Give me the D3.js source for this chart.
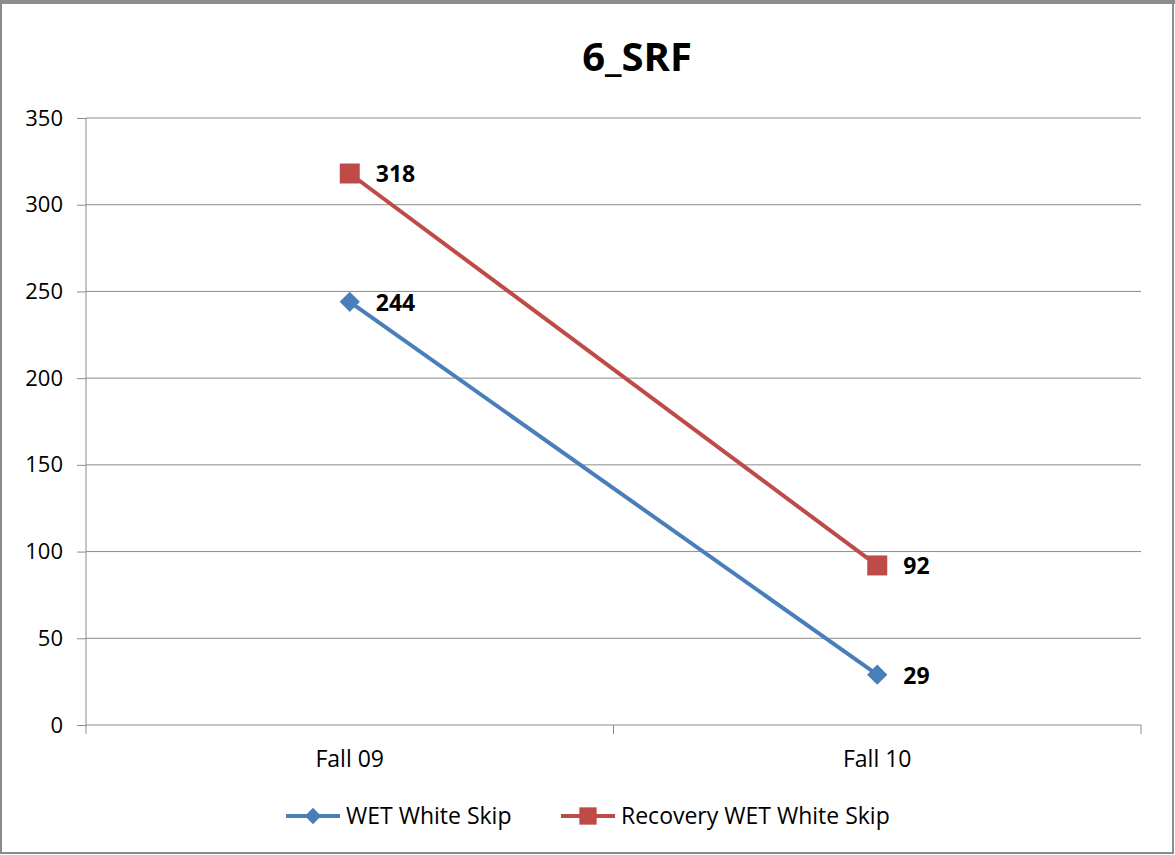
<!DOCTYPE html>
<html>
<head>
<meta charset="utf-8">
<script src="https://cdn.jsdelivr.net/npm/d3@7"></script>
<style>
  body { margin: 0; background: #fff; }
  text { font-family: "Open Sans", "Noto Sans", sans-serif; }
</style>
</head>
<body>
<svg id="chart" width="1175" height="855"></svg>
<script>
var categories = ["Fall 09", "Fall 10"];
var seriesNames = ["WET White Skip", "Recovery WET White Skip"];
var wetWhiteSkip = [244, 29];
var recoveryWetWhiteSkip = [318, 92];
var yTicks = [0, 50, 100, 150, 200, 250, 300, 350];

var colors = ["#4a7ebb", "#be4b48"];
var symbols = [d3.symbolDiamond2, d3.symbolSquare];

var svg = d3.select("#chart"),
    width = +svg.attr("width"),
    height = +svg.attr("height");

var margin = {top: 118, right: 34, bottom: 130, left: 86};

// outer frame
svg.append("rect")
    .attr("x", 1).attr("y", 1)
    .attr("width", width - 3).attr("height", height - 3)
    .attr("fill", "#fff")
    .attr("stroke", "#8c8c8c")
    .attr("stroke-width", 2);
svg.append("line")
    .attr("x1", 0).attr("x2", width)
    .attr("y1", 2).attr("y2", 2)
    .attr("stroke", "#8c8c8c").attr("stroke-width", 4);

var x = d3.scaleBand()
    .domain(categories)
    .range([margin.left, width - margin.right]);

var y = d3.scaleLinear()
    .domain([0, 350])
    .range([height - margin.bottom, margin.top]);

// title
svg.append("text")
    .attr("x", 637)
    .attr("y", 71)
    .attr("text-anchor", "middle")
    .attr("font-size", 40)
    .attr("font-weight", "bold")
    .attr("fill", "#000")
    .text("6_SRF");

// gridlines
svg.append("g")
    .selectAll("line")
    .data(yTicks.filter(function(d) { return d > 0; }))
    .enter().append("line")
      .attr("x1", margin.left)
      .attr("x2", width - margin.right)
      .attr("y1", function(d) { return y(d); })
      .attr("y2", function(d) { return y(d); })
      .attr("stroke", "#8c8c8c")
      .attr("stroke-width", 1);

// y axis
var yAxis = svg.append("g")
    .attr("transform", "translate(" + margin.left + ",0)")
    .call(d3.axisLeft(y).tickValues(yTicks).tickSize(9).tickPadding(14));
yAxis.selectAll("line, path").attr("stroke", "#8c8c8c");
yAxis.select(".domain").attr("d", "M0," + y(350) + "V" + y(0));
yAxis.selectAll("text")
    .attr("font-size", 22)
    .attr("fill", "#000")
    .attr("font-family", "'Open Sans', sans-serif");

// x axis
var xAxis = svg.append("g")
    .attr("transform", "translate(0," + y(0) + ")");
xAxis.append("line")
    .attr("x1", margin.left).attr("x2", width - margin.right)
    .attr("stroke", "#8c8c8c");
xAxis.selectAll(".tick")
    .data([margin.left, margin.left + x.bandwidth(), width - margin.right])
    .enter().append("line")
      .attr("x1", function(d) { return d; })
      .attr("x2", function(d) { return d; })
      .attr("y1", 0).attr("y2", 9)
      .attr("stroke", "#8c8c8c");
xAxis.selectAll("text")
    .data(categories)
    .enter().append("text")
      .attr("x", function(d) { return x(d) + x.bandwidth() / 2; })
      .attr("y", 42)
      .attr("text-anchor", "middle")
      .attr("font-size", 23)
      .attr("fill", "#000")
      .text(function(d) { return d; });

// series
var series = [wetWhiteSkip, recoveryWetWhiteSkip];
var line = d3.line()
    .x(function(d, i) { return x(categories[i]) + x.bandwidth() / 2; })
    .y(function(d) { return y(d); });

series.forEach(function(values, s) {
  svg.append("path")
      .datum(values)
      .attr("fill", "none")
      .attr("stroke", colors[s])
      .attr("stroke-width", 4)
      .attr("d", line);

  svg.append("g")
    .selectAll("path")
    .data(values)
    .enter().append("path")
      .attr("transform", function(d, i) {
        return "translate(" + (x(categories[i]) + x.bandwidth() / 2) + "," + y(d) + ")";
      })
      .attr("d", d3.symbol().type(symbols[s]).size(s === 0 ? 260 : 400))
      .attr("fill", colors[s]);

  svg.append("g")
    .selectAll("text")
    .data(values)
    .enter().append("text")
      .attr("x", function(d, i) { return x(categories[i]) + x.bandwidth() / 2 + 26; })
      .attr("y", function(d) { return y(d) + 9; })
      .attr("font-size", 23)
      .attr("font-weight", "bold")
      .attr("fill", "#000")
      .text(function(d) { return d; });
});

// legend
var legendX = [286, 561];
var legend = svg.append("g")
    .attr("transform", "translate(0,816)");
seriesNames.forEach(function(name, s) {
  var g = legend.append("g").attr("transform", "translate(" + legendX[s] + ",0)");
  g.append("line")
      .attr("x1", 0).attr("x2", 54)
      .attr("stroke", colors[s])
      .attr("stroke-width", 4);
  g.append("path")
      .attr("transform", "translate(27,0)")
      .attr("d", d3.symbol().type(symbols[s]).size(s === 0 ? 170 : 300))
      .attr("fill", colors[s]);
  g.append("text")
      .attr("x", 60)
      .attr("y", 8)
      .attr("font-size", 23)
      .attr("fill", "#000")
      .text(name);
});
</script>
</body>
</html>
